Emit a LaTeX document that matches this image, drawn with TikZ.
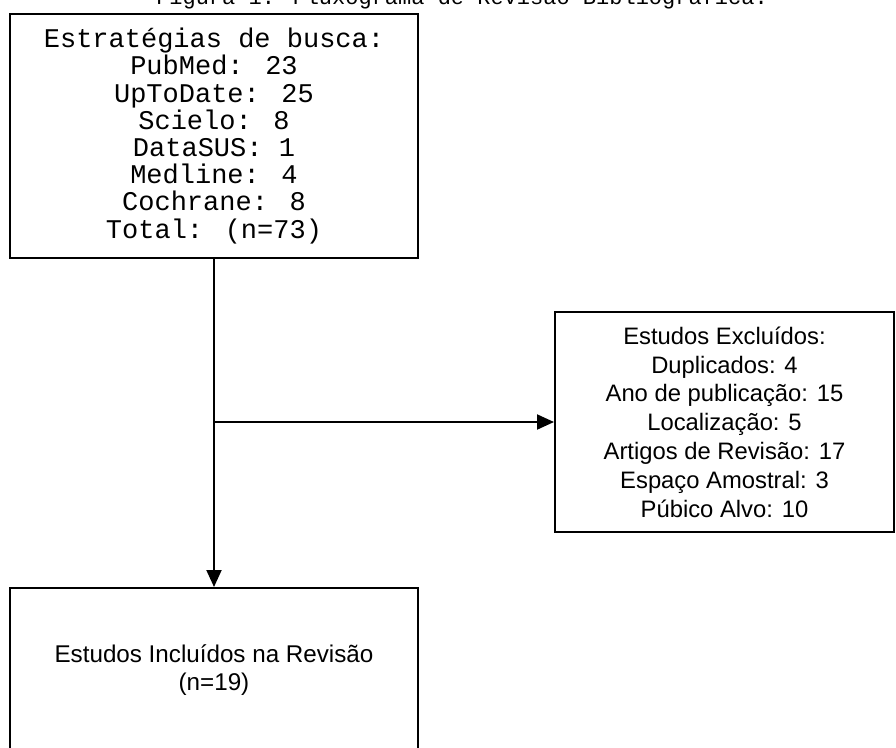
\documentclass[tikz,border=0pt]{standalone}
\usepackage{fontspec}
\setmainfont{Liberation Sans}
\newfontfamily\monof{Liberation Mono}
\usetikzlibrary{arrows.meta,positioning}
\begin{document}
\begin{tikzpicture}[x=1pt,y=-1pt,
  box/.style={draw=black,line width=2pt,fill=white,inner sep=0pt,align=center},
  conn/.style={line width=2pt,black},
  arr/.style={conn,-{Triangle[length=17pt,width=15pt]}}]
\useasboundingbox (0,0) rectangle (896,747);
\clip (0,0) rectangle (896,747);
\fill[white] (0,0) rectangle (896,747);
% title (cut off at top)
\node[anchor=base,inner sep=0pt,font=\monof\fontsize{22}{24}\selectfont] (title) at (462,4) {Figura 1: Fluxograma de Revisão Bibliográfica.};
% boxes
\node[box,minimum width=408pt,minimum height=244pt,
      font=\monof\fontsize{27}{27.2}\selectfont] (top) at (214,136)
  {Estratégias de busca:\\PubMed: 23\\UpToDate: 25\\Scielo: 8\\DataSUS: 1\\Medline: 4\\Cochrane: 8\\Total: (n=73)};
\node[box,minimum width=339pt,minimum height=220pt,
      font=\fontsize{23.8}{28.8}\selectfont] (excl) at (724.5,422)
  {Estudos Excluídos:\\Duplicados: 4\\Ano de publicação: 15\\Localização: 5\\Artigos de Revisão: 17\\Espaço Amostral: 3\\Púbico Alvo: 10};
\node[box,minimum width=408pt,minimum height=164pt,
      font=\fontsize{24.2}{28.5}\selectfont] (incl) at (214,670)
  {Estudos Incluídos na Revisão\\(n=19)};
% connectors
\coordinate (j) at (top.south |- excl.west);
\draw[arr] (top.south) -- (incl.north);
\draw[arr] (j) -- (excl.west);
\end{tikzpicture}
\end{document}
